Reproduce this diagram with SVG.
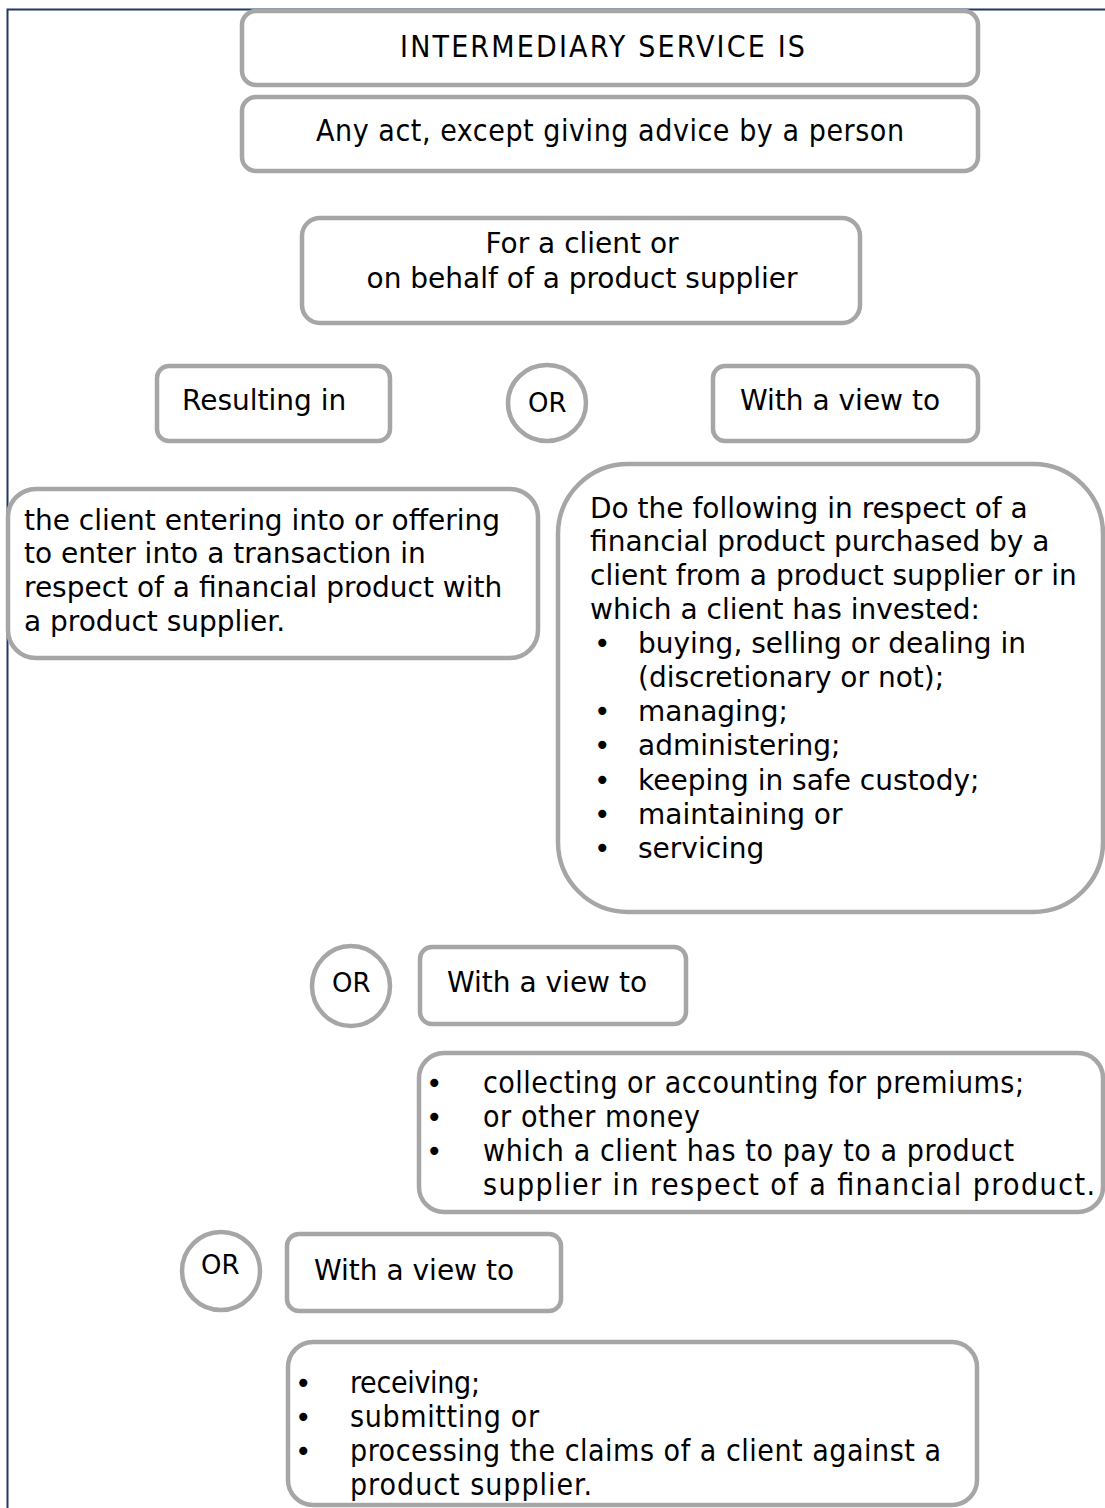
<svg xmlns="http://www.w3.org/2000/svg" width="1105" height="1508" viewBox="0 0 1105 1508">
<style>
.box{fill:#fff;stroke:#a6a6a6;stroke-width:4.5}
.v{font-family:"DejaVu Sans",Verdana,sans-serif;font-size:28px;fill:#000}
.o{font-family:"DejaVu Sans",Verdana,sans-serif;font-size:26px;fill:#000}
.t{font-family:"DejaVu Sans Condensed","DejaVu Sans",sans-serif;font-size:30px;fill:#000}
.frame{stroke:#1f3864;stroke-width:2;fill:none}
</style>
<rect width="1105" height="1508" fill="#fff"/>
<path class="frame" d="M7.5,1508 V9.5 H1105"/>
<g id="connectors"></g>
<g id="n-title">
<rect class="box" x="242" y="11" width="736" height="74" rx="14"/>
<text class="t" x="400" y="57" textLength="405">INTERMEDIARY SERVICE IS</text>
</g>
<g id="n-anyact">
<rect class="box" x="242" y="97" width="736" height="74" rx="14"/>
<text class="t" x="316" y="141" textLength="588">Any act, except giving advice by a person</text>
</g>
<g id="n-forclient">
<rect class="box" x="302" y="218" width="558" height="105" rx="18"/>
<text class="v" x="582" y="253" text-anchor="middle">For a client or</text>
<text class="v" x="582" y="288" text-anchor="middle">on behalf of a product supplier</text>
</g>
<g id="n-resulting">
<rect class="box" x="157" y="366" width="233" height="75" rx="12"/>
<text class="v" x="182" y="410">Resulting in</text>
</g>
<g id="n-or1">
<ellipse class="box" cx="547" cy="403" rx="39" ry="38"/>
<text class="o" x="528" y="412">OR</text>
</g>
<g id="n-view1">
<rect class="box" x="713" y="366" width="265" height="75" rx="12"/>
<text class="v" x="740" y="410">With a view to</text>
</g>
<g id="n-transaction">
<rect class="box" x="8" y="489" width="530" height="169" rx="28"/>
<text class="v" x="24" y="530">the client entering into or offering</text>
<text class="v" x="24" y="563">to enter into a transaction in</text>
<text class="v" x="24" y="597">respect of a financial product with</text>
<text class="v" x="24" y="631">a product supplier.</text>
</g>
<g id="n-dofollowing">
<rect class="box" x="558" y="464" width="545" height="448" rx="70"/>
<text class="v" x="590" y="518">Do the following in respect of a</text>
<text class="v" x="590" y="551">financial product purchased by a</text>
<text class="v" x="590" y="585">client from a product supplier or in</text>
<text class="v" x="590" y="619">which a client has invested:</text>
<text class="v" x="594" y="653">•</text><text class="v" x="638" y="653">buying, selling or dealing in</text>
<text class="v" x="638" y="687">(discretionary or not);</text>
<text class="v" x="594" y="721">•</text><text class="v" x="638" y="721">managing;</text>
<text class="v" x="594" y="755">•</text><text class="v" x="638" y="755">administering;</text>
<text class="v" x="594" y="790">•</text><text class="v" x="638" y="790">keeping in safe custody;</text>
<text class="v" x="594" y="824">•</text><text class="v" x="638" y="824">maintaining or</text>
<text class="v" x="594" y="858">•</text><text class="v" x="638" y="858">servicing</text>
</g>
<g id="n-or2">
<ellipse class="box" cx="351" cy="986" rx="39" ry="40"/>
<text class="o" x="332" y="992">OR</text>
</g>
<g id="n-view2">
<rect class="box" x="420" y="947" width="266" height="77" rx="12"/>
<text class="v" x="447" y="992">With a view to</text>
</g>
<g id="n-collecting">
<rect class="box" x="419" y="1053" width="684" height="159" rx="25"/>
<text class="v" x="426" y="1093">•</text><text class="t" x="483" y="1093" textLength="541">collecting or accounting for premiums;</text>
<text class="v" x="426" y="1127">•</text><text class="t" x="483" y="1127" textLength="217">or other money</text>
<text class="v" x="426" y="1161">•</text><text class="t" x="483" y="1161" textLength="531">which a client has to pay to a product</text>
<text class="t" x="483" y="1195" textLength="612">supplier in respect of a financial product.</text>
</g>
<g id="n-or3">
<ellipse class="box" cx="221" cy="1271" rx="39" ry="39"/>
<text class="o" x="201" y="1274">OR</text>
</g>
<g id="n-view3">
<rect class="box" x="287" y="1234" width="274" height="77" rx="12"/>
<text class="v" x="314" y="1280">With a view to</text>
</g>
<g id="n-claims">
<rect class="box" x="288" y="1342" width="689" height="163" rx="25"/>
<text class="v" x="295" y="1393">•</text><text class="t" x="350" y="1393" textLength="130">receiving;</text>
<text class="v" x="295" y="1427">•</text><text class="t" x="350" y="1427" textLength="189">submitting or</text>
<text class="v" x="295" y="1461">•</text><text class="t" x="350" y="1461" textLength="591">processing the claims of a client against a</text>
<text class="t" x="350" y="1495" textLength="242">product supplier.</text>
</g>
</svg>
